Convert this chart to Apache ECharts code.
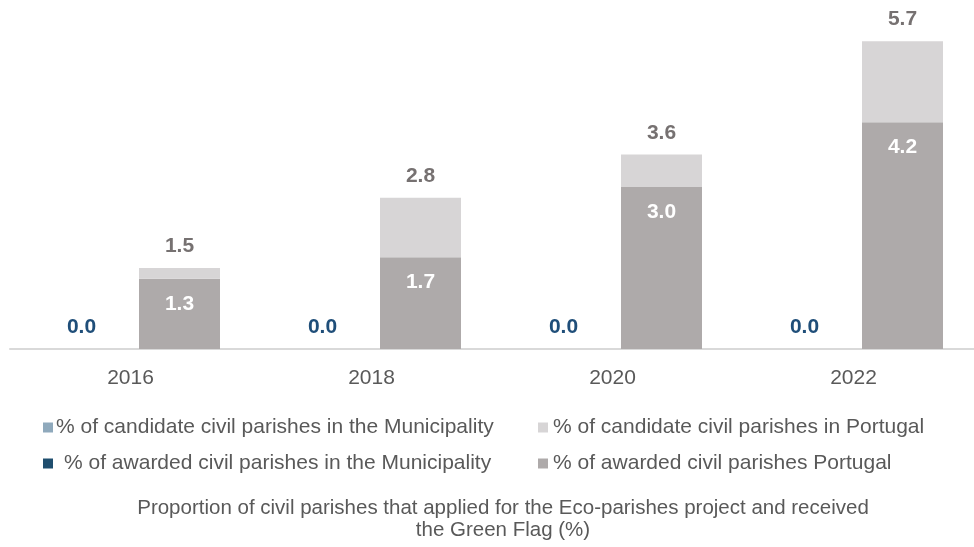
<!DOCTYPE html>
<html>
<head>
<meta charset="utf-8">
<script src="https://cdn.jsdelivr.net/npm/echarts@6/dist/echarts.min.js"></script>
<style>
html,body{margin:0;padding:0;background:#fff;}
#chart{width:974px;height:547px;}
</style>
</head>
<body>
<div id="chart"></div>
<script>
const years = ['2016', '2018', '2020', '2022'];
const candidateMunicipality = [0.0, 0.0, 0.0, 0.0];
const awardedMunicipality = [0.0, 0.0, 0.0, 0.0];
const candidatePortugal = [1.5, 2.8, 3.6, 5.7];
const awardedPortugal = [1.3, 1.7, 3.0, 4.2];
const seriesNames = [
  '% of candidate civil parishes in the Municipality',
  '% of candidate civil parishes in Portugal',
  '% of awarded civil parishes in the Municipality',
  '% of awarded civil parishes Portugal'
];
const titleText = 'Proportion of civil parishes that applied for the Eco-parishes project and received\nthe Green Flag (%)';

const FONT = 'Liberation Sans, Arial, sans-serif';
const FS = 21;
const candidateRemainder = candidatePortugal.map((v, i) => +(v - awardedPortugal[i]).toFixed(2));

const chart = echarts.init(document.getElementById('chart'), null, {renderer: 'canvas'});

function legendItem(name, left, top, color, padLeft) {
  return {
    data: [name],
    left: left, top: top,
    itemWidth: 10, itemHeight: 10,
    icon: 'rect',
    selectedMode: false,
    itemStyle: {color: color},
    textStyle: {fontFamily: FONT, fontSize: FS, color: '#595959', padding: [0, 0, 0, padLeft || 0]}
  };
}

const option = {
  animation: false,
  backgroundColor: '#ffffff',
  title: {
    text: titleText,
    left: 503, top: 497, padding: 0,
    textAlign: 'center',
    textStyle: {fontFamily: FONT, fontSize: 20.5, fontWeight: 'normal', color: '#595959', lineHeight: 22}
  },
  legend: [
    legendItem(seriesNames[0], 38, 412, '#8FA9BC', -2),
    legendItem(seriesNames[1], 533, 412, '#D7D5D6', 0),
    legendItem(seriesNames[2], 38, 448, '#1F4E6E', 6),
    legendItem(seriesNames[3], 533, 448, '#AEAAAA', 0)
  ],
  grid: {left: 10, right: -11, top: 25, bottom: 198, containLabel: false},
  xAxis: {
    type: 'category',
    data: years,
    axisLine: {lineStyle: {color: '#D9D9D9', width: 2}},
    axisTick: {show: false},
    axisLabel: {fontFamily: FONT, fontSize: FS, color: '#595959', margin: 19}
  },
  yAxis: {
    type: 'value', min: 0, max: 6, interval: 1,
    show: false,
    splitLine: {show: false}
  },
  series: [
    {
      name: seriesNames[0], type: 'bar', stack: 'muni',
      data: candidateMunicipality, barWidth: 81, barGap: '21%',
      itemStyle: {color: '#8FA9BC'},
      label: {show: false}
    },
    {
      name: seriesNames[2], type: 'bar', stack: 'muni',
      data: awardedMunicipality, barWidth: 81, barGap: '21%',
      itemStyle: {color: '#1F4E6E'},
      label: {show: true, position: 'top', distance: 11, fontFamily: FONT, fontSize: FS, fontWeight: 'bold', color: '#1F4E79',
        formatter: p => awardedMunicipality[p.dataIndex].toFixed(1)}
    },
    {
      name: seriesNames[3], type: 'bar', stack: 'pt',
      data: awardedPortugal, barWidth: 81, barGap: '21%',
      itemStyle: {color: '#AEAAAA'},
      label: {show: true, position: 'insideTop', distance: 15, fontFamily: FONT, fontSize: FS, fontWeight: 'bold', color: '#FFFFFF',
        formatter: p => awardedPortugal[p.dataIndex].toFixed(1)}
    },
    {
      name: seriesNames[1], type: 'bar', stack: 'pt',
      data: candidateRemainder, barWidth: 81, barGap: '21%',
      itemStyle: {color: '#D7D5D6'},
      label: {show: true, position: 'top', distance: 11, fontFamily: FONT, fontSize: FS, fontWeight: 'bold', color: '#767171',
        formatter: p => candidatePortugal[p.dataIndex].toFixed(1)}
    }
  ]
};
chart.setOption(option);
</script>
</body>
</html>
